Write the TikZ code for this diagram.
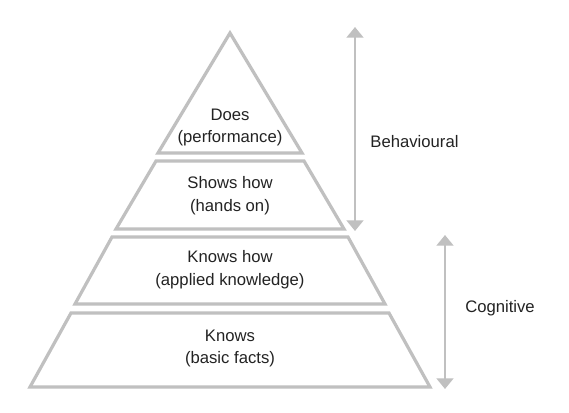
\documentclass[tikz,border=0pt]{standalone}
\usepackage{fontspec}
\setmainfont{Liberation Sans}
\usetikzlibrary{arrows.meta}
\definecolor{pyr}{RGB}{192,192,192}
\definecolor{txt}{RGB}{35,35,35}
\begin{document}
\begin{tikzpicture}[x=0.75pt,y=-0.75pt,
  level/.style={draw=pyr,line width=2.4pt,line join=miter,fill=white},
  lbl/.style={text=txt,font=\fontsize{12.5pt}{17pt}\selectfont,align=center,inner sep=0pt},
  side/.style={text=txt,font=\fontsize{12.5pt}{17pt}\selectfont,inner sep=0pt},
  dbl/.style={draw=pyr,line width=2.2pt,{Triangle[width=12.5pt,length=8pt]}-{Triangle[width=12.5pt,length=8pt]}}]
\useasboundingbox[fill=white] (0,0) rectangle (569,412);
% pyramid levels
\draw[level] (230,33) -- (302,153) -- (158,153) -- cycle;
\draw[level] (156,161) -- (304,161) -- (344,229) -- (116,229) -- cycle;
\draw[level] (112,237) -- (348,237) -- (385,304) -- (75,304) -- cycle;
\draw[level] (71,313) -- (389,313) -- (430,387) -- (30,387) -- cycle;
% labels
\node[lbl] (does)  at (230,127.5) {Does\\(performance)};
\node[lbl] (shows) at (230,195.5) {Shows how\\(hands on)};
\node[lbl] (khow)  at (230,270) {Knows how\\(applied knowledge)};
\node[lbl] (knows) at (230,348.5) {Knows\\(basic facts)};
% arrows
\coordinate (bt) at (355,27);
\coordinate (bb) at (355,231);
\coordinate (ct) at (445,235);
\coordinate (cb) at (445,389);
\draw[dbl] (bt) -- (bb);
\draw[dbl] (ct) -- (cb);
\node[side] (beh) at (414.5,142) {Behavioural};
\node[side] (cog) at (500,308) {Cognitive};
\end{tikzpicture}
\end{document}
